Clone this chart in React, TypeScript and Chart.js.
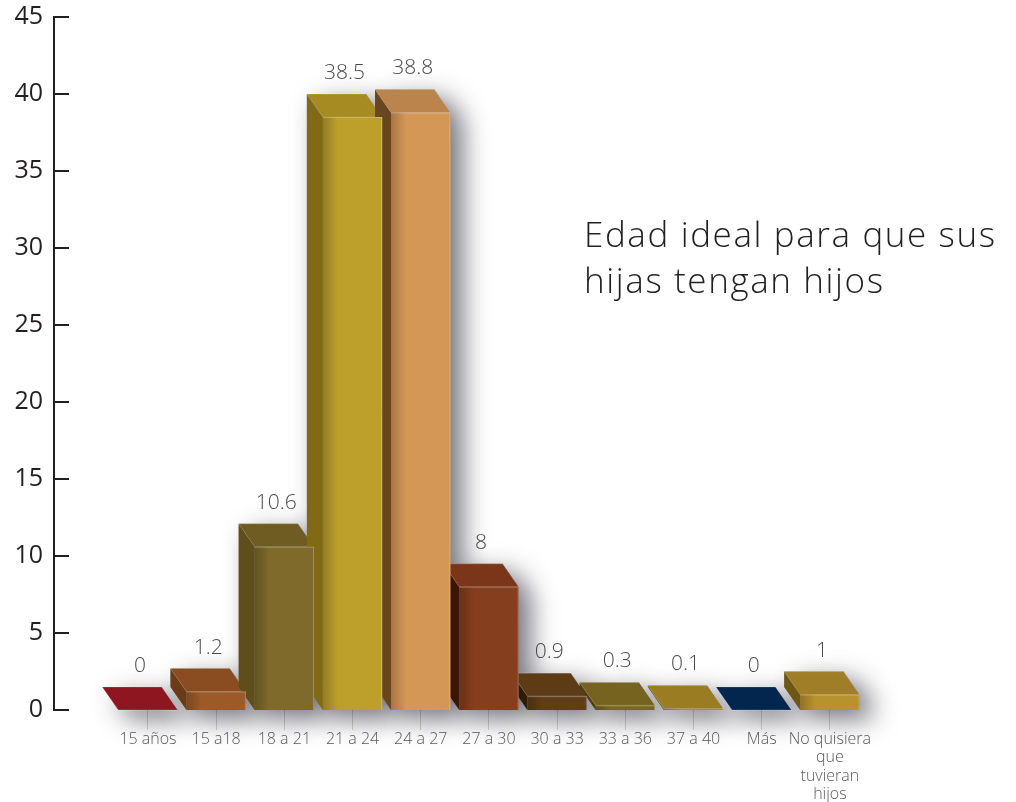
import React, { useEffect, useRef } from "react";
import { Chart, registerables } from "chart.js";

Chart.register(...registerables);

const categories: (string | string[])[] = [
  "15 años",
  "15 a18",
  "18 a 21",
  "21 a 24",
  "24 a 27",
  "27 a 30",
  "30 a 33",
  "33 a 36",
  "37 a 40",
  "Más",
  ["No quisiera", "que", "tuvieran", "hijos"],
];
const values = [0, 1.2, 10.6, 38.5, 38.8, 8, 0.9, 0.3, 0.1, 0, 1];
const valueLabels = ["0", "1.2", "10.6", "38.5", "38.8", "8", "0.9", "0.3", "0.1", "0", "1"];
const frontColors = ["#8c1520", "#9c5a28", "#7f6a2b", "#bd9f2c", "#d49756", "#853e1e", "#5e3d17", "#7a6522", "#9a7f23", "#04264f", "#b8922c"];
const topColors = ["#8e1620", "#8a4d22", "#6f5c22", "#a68a22", "#bb844c", "#7b3619", "#5c3b15", "#76631f", "#9a7d22", "#03264f", "#9f7e27"];
const sideColors = ["#6a0f17", "#6b3a16", "#5f4d1b", "#806a14", "#6a4620", "#3d1506", "#2e1a06", "#4d3e10", "#6a5412", "#021836", "#6d5616"];
const yTicks = [0, 5, 10, 15, 20, 25, 30, 35, 40, 45];
const titleLines = ["Edad ideal para que sus", "hijas tengan hijos"];

const DX = -16;
const DY = -23;

function facePaths(el: any) {
  const { x, y, base, width } = el.getProps(["x", "y", "base", "width"], true);
  const l = x - width / 2;
  const r = x + width / 2;
  return { x, y, base, l, r };
}

const bar3d = {
  id: "bar3d",
  beforeDatasetsDraw(chart: any) {
    const ctx = chart.ctx;
    const els = chart.getDatasetMeta(0).data;
    ctx.save();
    ctx.shadowColor = "rgba(30,30,45,0.62)";
    ctx.shadowBlur = 26;
    ctx.shadowOffsetX = 12;
    ctx.shadowOffsetY = 9;
    els.forEach((el: any) => {
      const { y, base, l, r } = facePaths(el);
      ctx.beginPath();
      ctx.moveTo(l, base);
      ctx.lineTo(r, base);
      ctx.lineTo(r, y);
      ctx.lineTo(r + DX, y + DY);
      ctx.lineTo(l + DX, y + DY);
      ctx.lineTo(l + DX, base + DY);
      ctx.closePath();
      ctx.fillStyle = "#888";
      ctx.fill();
    });
    ctx.restore();
    ctx.save();
    els.forEach((el: any, i: number) => {
      const { y, base, l, r } = facePaths(el);
      if (base - y > 0.5) {
        ctx.beginPath();
        ctx.moveTo(l, y);
        ctx.lineTo(l, base);
        ctx.lineTo(l + DX, base + DY);
        ctx.lineTo(l + DX, y + DY);
        ctx.closePath();
        ctx.fillStyle = sideColors[i];
        ctx.fill();
      }
      ctx.beginPath();
      ctx.moveTo(l, y);
      ctx.lineTo(r, y);
      ctx.lineTo(r + DX, y + DY);
      ctx.lineTo(l + DX, y + DY);
      ctx.closePath();
      ctx.fillStyle = topColors[i];
      ctx.fill();
      ctx.strokeStyle = "rgba(255,255,255,0.18)";
      ctx.lineWidth = 1;
      ctx.stroke();
    });
    ctx.restore();
  },
  afterDatasetsDraw(chart: any) {
    const ctx = chart.ctx;
    const els = chart.getDatasetMeta(0).data;
    ctx.save();
    els.forEach((el: any, i: number) => {
      const { x, y, base, l, r } = facePaths(el);
      if (base - y > 0.5) {
        const g = ctx.createLinearGradient(l, 0, r, 0);
        g.addColorStop(0, "rgba(0,0,0,0.22)");
        g.addColorStop(0.25, "rgba(0,0,0,0.0)");
        g.addColorStop(1, "rgba(0,0,0,0.0)");
        ctx.fillStyle = g;
        ctx.fillRect(l, y, r - l, base - y);
        ctx.strokeStyle = "rgba(255,255,255,0.25)";
        ctx.lineWidth = 1;
        ctx.beginPath();
        ctx.moveTo(l, y + 0.5);
        ctx.lineTo(r, y + 0.5);
        ctx.moveTo(r - 0.5, y);
        ctx.lineTo(r - 0.5, base);
        ctx.stroke();
      }
      ctx.fillStyle = "#4a4a4a";
      ctx.font = "300 21px 'Open Sans'";
      ctx.textAlign = "center";
      ctx.textBaseline = "alphabetic";
      ctx.fillText(valueLabels[i], x + DX / 2, y + DY - 15);
    });
    ctx.restore();
  },
  afterDraw(chart: any) {
    const ctx = chart.ctx;
    const yScale = chart.scales.y;
    const left = chart.chartArea.left;
    ctx.save();
    ctx.strokeStyle = "#231f20";
    ctx.lineWidth = 2;
    yTicks.forEach((t) => {
      const py = Math.round(yScale.getPixelForValue(t));
      ctx.beginPath();
      ctx.moveTo(left, py);
      ctx.lineTo(left + 15, py);
      ctx.stroke();
    });
    ctx.fillStyle = "#231f20";
    ctx.font = "300 35px 'Open Sans'";
    (ctx as any).letterSpacing = "1.6px";
    ctx.textAlign = "left";
    ctx.textBaseline = "alphabetic";
    titleLines.forEach((t, i) => ctx.fillText(t, 584, 247 + i * 46));
    ctx.restore();
  },
};

export default function App() {
  const ref = useRef<HTMLCanvasElement>(null);
  useEffect(() => {
    if (!ref.current) return;
    const chart = new Chart(ref.current, {
      type: "bar",
      data: {
        datasets: [
          {
            data: values.map((v, i) => ({ x: i, y: v })),
            backgroundColor: frontColors,
            borderWidth: 0,
            barPercentage: 0.87,
            categoryPercentage: 1,
          },
        ],
      },
      options: {
        responsive: false,
        animation: false,
        layout: { padding: { top: 17, right: 152, left: 0, bottom: 0 } },
        plugins: { legend: { display: false }, tooltip: { enabled: false }, title: { display: false } },
        scales: {
          x: {
            type: "linear",
            offset: false,
            min: -1.378,
            max: 10.5,
            afterFit: (s: any) => {
              s.height = 92;
              s.paddingLeft = 0;
              s.paddingRight = 0;
            },
            border: { display: false },
            grid: {
              offset: false,
              drawOnChartArea: false,
              drawTicks: true,
              tickLength: 20,
              color: (c: any) => (c.tick && c.tick.value >= 0 && c.tick.value <= 10 && Number.isInteger(c.tick.value) ? "#d4d4d4" : "rgba(0,0,0,0)"),
            },
            ticks: {
              stepSize: 1,
              includeBounds: false,
              autoSkip: false,
              maxRotation: 0,
              padding: 0,
              color: "#5a5a5a",
              font: { family: "Open Sans", size: 16, weight: "300", lineHeight: 1.15 },
              callback: (v: any) => (Number.isInteger(v) && v >= 0 && v < categories.length ? categories[v] : ""),
            },
          },
          y: {
            min: 0,
            max: 45,
            afterFit: (s: any) => {
              s.width = 54;
              s.paddingTop = 0;
              s.paddingBottom = 0;
            },
            border: { display: true, color: "#231f20", width: 2 },
            grid: { display: false, drawTicks: false, tickLength: 0 },
            ticks: {
              stepSize: 5,
              padding: 11,
              color: "#231f20",
              font: { family: "Open Sans", size: 25 },
            },
          },
        },
      },
      plugins: [bar3d],
    });
    return () => chart.destroy();
  }, []);
  return (
    <div style={{ position: "absolute", left: 0, top: 0, width: 1016, height: 802, background: "#fff" }}>
      <canvas ref={ref} width={1016} height={802} style={{ display: "block" }} />
    </div>
  );
}
